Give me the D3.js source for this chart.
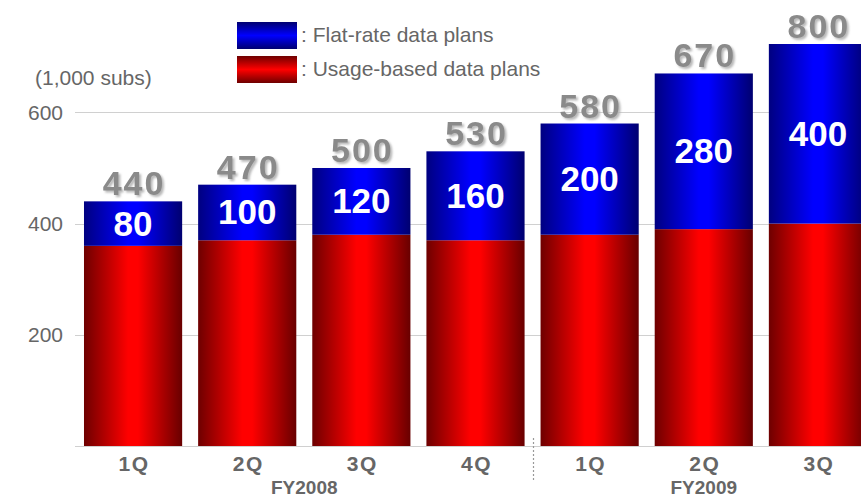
<!DOCTYPE html>
<html>
<head>
<meta charset="utf-8">
<script src="https://cdn.jsdelivr.net/npm/d3@7"></script>
<style>
  html, body { margin: 0; padding: 0; background: #fff; }
  svg { display: block; font-family: "Liberation Sans", Arial, sans-serif; }
</style>
</head>
<body>
<svg id="chart" width="861" height="498"></svg>
<script>
// Quarterly subscribers (1,000 subs)
const quarters = ["1Q", "2Q", "3Q", "4Q", "1Q", "2Q", "3Q"];
const fiscalYears = ["FY2008", "FY2008", "FY2008", "FY2008", "FY2009", "FY2009", "FY2009"];
const flatRate = [80, 100, 120, 160, 200, 280, 400];
const totals = [440, 470, 500, 530, 580, 670, 800];
const usageBased = totals.map((t, i) => t - flatRate[i]);
const yTicks = [200, 400, 600];
const unitLabel = "(1,000 subs)";
const legendLabels = [": Flat-rate data plans", ": Usage-based data plans"];

const svg = d3.select("#chart");
const W = 861, H = 498;

// Plot area: the tallest bar runs past the top edge and is cut off there
const x = d3.scaleBand().domain(d3.range(quarters.length))
  .range([76, 875]).paddingInner(0.14).paddingOuter(0.07);
const y = d3.scaleLinear().domain([0, 723]).range([446, 44]).clamp(true);

const defs = svg.append("defs");
function hGrad(id, dark, bright, darkR) {
  const g = defs.append("linearGradient").attr("id", id)
    .attr("x1", "0%").attr("x2", "100%").attr("y1", "0%").attr("y2", "0%");
  g.append("stop").attr("offset", "0%").attr("stop-color", dark);
  g.append("stop").attr("offset", "45%").attr("stop-color", bright);
  g.append("stop").attr("offset", "55%").attr("stop-color", bright);
  g.append("stop").attr("offset", "100%").attr("stop-color", darkR);
}
function vGrad(id, dark, bright, darkB) {
  const g = defs.append("linearGradient").attr("id", id)
    .attr("x1", "0%").attr("x2", "0%").attr("y1", "0%").attr("y2", "100%");
  g.append("stop").attr("offset", "0%").attr("stop-color", dark);
  g.append("stop").attr("offset", "50%").attr("stop-color", bright);
  g.append("stop").attr("offset", "100%").attr("stop-color", darkB);
}
hGrad("redBar", "#6e0000", "#ff0000", "#680000");
hGrad("blueBar", "#000080", "#0000ff", "#000070");
vGrad("blueKey", "#000070", "#0000ff", "#000070");
vGrad("redKey", "#6e0000", "#ff0000", "#6e0000");

const shadow = defs.append("filter").attr("id", "shadow")
  .attr("x", "-20%").attr("y", "-20%").attr("width", "140%").attr("height", "140%");
shadow.append("feDropShadow").attr("dx", 2).attr("dy", 2).attr("stdDeviation", 0.8)
  .attr("flood-color", "#b0b0b0").attr("flood-opacity", 0.9);

// Gridlines and baseline
const gridX0 = 75;
svg.append("g").selectAll("line").data([0, ...yTicks]).join("line")
  .attr("x1", gridX0).attr("x2", W)
  .attr("y1", d => Math.round(y(d)) + 0.5).attr("y2", d => Math.round(y(d)) + 0.5)
  .attr("stroke", "#d0d0d0").attr("stroke-width", 1.2);

// Y axis tick labels
const yAxis = d3.axisLeft(y).tickValues(yTicks).tickSize(0).tickPadding(0);
const yAxisG = svg.append("g").attr("transform", "translate(63,0)").call(yAxis);
yAxisG.select(".domain").remove();
yAxisG.selectAll("text").attr("font-size", 21).attr("fill", "#666")
  .attr("font-family", "Liberation Sans, Arial, sans-serif");

svg.append("text").attr("x", 35).attr("y", 85).attr("font-size", 21)
  .attr("fill", "#666").text(unitLabel);

// Stacked bars
const bars = svg.append("g");
bars.selectAll("rect.usage").data(usageBased).join("rect").attr("class", "usage")
  .attr("x", (d, i) => x(i)).attr("width", x.bandwidth())
  .attr("y", d => y(d)).attr("height", d => y(0) - y(d))
  .attr("fill", "url(#redBar)");
bars.selectAll("rect.flat").data(flatRate).join("rect").attr("class", "flat")
  .attr("x", (d, i) => x(i)).attr("width", x.bandwidth())
  .attr("y", (d, i) => y(usageBased[i] + d))
  .attr("height", (d, i) => y(usageBased[i]) - y(usageBased[i] + d))
  .attr("fill", "url(#blueBar)");

// Flat-rate values inside the blue segments
svg.append("g").selectAll("text").data(flatRate).join("text")
  .attr("x", (d, i) => x(i) + x.bandwidth() / 2)
  .attr("y", (d, i) => (y(usageBased[i]) + y(usageBased[i] + d)) / 2 + 12)
  .attr("text-anchor", "middle").attr("font-size", 35).attr("font-weight", "bold")
  .attr("fill", "#fff").text(d => d);

// Totals above the bars
svg.append("g").selectAll("text").data(totals).join("text")
  .attr("x", (d, i) => x(i) + x.bandwidth() / 2 + 1)
  .attr("y", d => y(d) - 6)
  .attr("text-anchor", "middle").attr("font-size", 34).attr("font-weight", "bold")
  .attr("fill", "#8a8a8a").attr("letter-spacing", 2).attr("filter", "url(#shadow)")
  .text(d => d);

// Category axis
const xAxisG = svg.append("g").attr("transform", "translate(0,471)");
xAxisG.selectAll("text").data(quarters).join("text")
  .attr("x", (d, i) => x(i) + x.bandwidth() / 2 + 1)
  .attr("text-anchor", "middle").attr("font-size", 21).attr("font-weight", "bold")
  .attr("letter-spacing", 1.5).attr("fill", "#666").text(d => d);

const years = Array.from(d3.group(quarters.map((q, i) => i), i => fiscalYears[i]),
  ([fy, idx]) => ({ fy, mid: (x(idx[0]) + x(idx[idx.length - 1]) + x.bandwidth()) / 2 }));
svg.append("g").selectAll("text").data(years).join("text")
  .attr("x", d => d.mid).attr("y", 494)
  .attr("text-anchor", "middle").attr("font-size", 19).attr("font-weight", "bold")
  .attr("fill", "#666").text(d => d.fy);

// Divider between fiscal years
const splitIdx = fiscalYears.indexOf("FY2009");
const divX = Math.round((x(splitIdx - 1) + x.bandwidth() + x(splitIdx)) / 2) + 0.5;
svg.append("line").attr("x1", divX).attr("x2", divX).attr("y1", 438).attr("y2", 480)
  .attr("stroke", "#999").attr("stroke-width", 1.2).attr("stroke-dasharray", "2,2");

// Legend
const legend = svg.append("g");
const keys = [{ fill: "url(#blueKey)", label: legendLabels[0] }, { fill: "url(#redKey)", label: legendLabels[1] }];
legend.selectAll("rect").data(keys).join("rect")
  .attr("x", 237).attr("y", (d, i) => 22 + i * 34).attr("width", 60).attr("height", 27)
  .attr("fill", d => d.fill);
legend.selectAll("text").data(keys).join("text")
  .attr("x", 301).attr("y", (d, i) => 42 + i * 34)
  .attr("font-size", 21).attr("fill", "#666").text(d => d.label);
</script>
</body>
</html>
